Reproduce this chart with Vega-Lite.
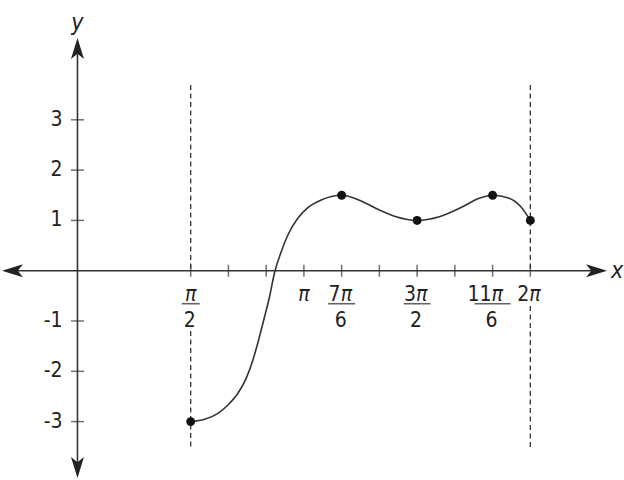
{
  "$schema": "https://vega.github.io/schema/vega-lite/v6.json",
  "width": 624,
  "height": 480,
  "autosize": {"type": "fit", "contains": "padding"},
  "padding": 0,
  "config": {
    "view": {"stroke": null},
    "font": "DejaVu Sans Condensed",
    "text": {"font": "DejaVu Sans Condensed", "fontSize": 21, "color": "#222"}
  },
  "datasets": {
    "curve": [
      {"x": 1.5708, "y": -3},
      {"x": 1.765, "y": -2.954},
      {"x": 1.949, "y": -2.835},
      {"x": 2.088, "y": -2.67},
      {"x": 2.226, "y": -2.437},
      {"x": 2.342, "y": -2.136},
      {"x": 2.434, "y": -1.775},
      {"x": 2.513, "y": -1.378},
      {"x": 2.596, "y": -0.915},
      {"x": 2.665, "y": -0.517},
      {"x": 2.734, "y": -0.04},
      {"x": 2.827, "y": 0.378},
      {"x": 2.919, "y": 0.71},
      {"x": 3.057, "y": 1.042},
      {"x": 3.196, "y": 1.252},
      {"x": 3.381, "y": 1.406},
      {"x": 3.6652, "y": 1.5},
      {"x": 3.957, "y": 1.372},
      {"x": 4.189, "y": 1.207},
      {"x": 4.42, "y": 1.074},
      {"x": 4.7124, "y": 1.0},
      {"x": 5.02, "y": 1.074},
      {"x": 5.343, "y": 1.272},
      {"x": 5.574, "y": 1.44},
      {"x": 5.7596, "y": 1.5},
      {"x": 5.989, "y": 1.44},
      {"x": 6.152, "y": 1.27},
      {"x": 6.2832, "y": 1.0}
    ],
    "points": [
      {"x": 1.5708, "y": -3},
      {"x": 3.6652, "y": 1.5},
      {"x": 4.7124, "y": 1},
      {"x": 5.7596, "y": 1.5},
      {"x": 6.2832, "y": 1}
    ],
    "guides": [
      {"x": 1.5708, "y": 3.69, "y2": 0},
      {"x": 1.5708, "y": -1.2, "y2": -3.56},
      {"x": 6.2832, "y": 3.69, "y2": 0},
      {"x": 6.2832, "y": -0.7, "y2": -3.56}
    ],
    "axes": [
      {"x": -0.85, "y": 0, "x2": 7.15, "y2": 0},
      {"x": 0, "y": -3.85, "x2": 0, "y2": 4.35}
    ],
    "arrows": [
      {"x": 7.202, "y": 0, "dir": "right"},
      {"x": -0.902, "y": 0, "dir": "left"},
      {"x": 0, "y": 4.418, "dir": "up"},
      {"x": 0, "y": -3.913, "dir": "down"}
    ],
    "xticks": [
      {"x": 1.5708, "y": 0, "coef": "", "pi": "π", "den": "2"},
      {"x": 2.0944, "y": 0, "coef": "", "pi": "", "den": ""},
      {"x": 2.618, "y": 0, "coef": "", "pi": "", "den": ""},
      {"x": 3.1416, "y": 0, "coef": "", "pi": "π", "den": ""},
      {"x": 3.6652, "y": 0, "coef": "7", "pi": "π", "den": "6"},
      {"x": 4.1888, "y": 0, "coef": "", "pi": "", "den": ""},
      {"x": 4.7124, "y": 0, "coef": "3", "pi": "π", "den": "2"},
      {"x": 5.236, "y": 0, "coef": "", "pi": "", "den": ""},
      {"x": 5.7596, "y": 0, "coef": "11", "pi": "π", "den": "6"},
      {"x": 6.2832, "y": 0, "coef": "2", "pi": "π", "den": ""}
    ],
    "yticks": [
      {"x": 0, "y": 3, "label": "3"},
      {"x": 0, "y": 2, "label": "2"},
      {"x": 0, "y": 1, "label": "1"},
      {"x": 0, "y": -1, "label": "-1"},
      {"x": 0, "y": -2, "label": "-2"},
      {"x": 0, "y": -3, "label": "-3"}
    ],
    "titles": [
      {"x": 0, "y": 4.92, "label": "y"},
      {"x": 7.486, "y": 0, "label": "x"}
    ]
  },
  "encoding": {
    "x": {"field": "x", "type": "quantitative", "axis": null,
          "scale": {"domain": [-1.075, 7.569], "nice": false, "zero": false}},
    "y": {"field": "y", "type": "quantitative", "axis": null,
          "scale": {"domain": [-4.161, 5.382], "nice": false, "zero": false}}
  },
  "layer": [
    {
      "data": {"name": "guides"},
      "mark": {"type": "rule", "color": "#333", "strokeWidth": 1.3, "strokeDash": [5, 3.5]},
      "encoding": {"y2": {"field": "y2"}}
    },
    {
      "data": {"name": "axes"},
      "mark": {"type": "rule", "color": "#333", "strokeWidth": 1.6},
      "encoding": {"x2": {"field": "x2"}, "y2": {"field": "y2"}}
    },
    {
      "data": {"name": "arrows"},
      "mark": {"type": "point", "filled": true, "opacity": 1, "color": "#222", "size": 441},
      "encoding": {
        "shape": {
          "field": "dir", "type": "nominal", "legend": null,
          "scale": {
            "domain": ["right", "left", "up", "down"],
            "range": [
              "M1,0L-1,-0.62L-0.5,0L-1,0.62Z",
              "M-1,0L1,-0.62L0.5,0L1,0.62Z",
              "M0,-1L-0.62,1L0,0.5L0.62,1Z",
              "M0,1L-0.62,-1L0,-0.5L0.62,-1Z"
            ]
          }
        }
      }
    },
    {
      "data": {"name": "xticks"},
      "mark": {"type": "tick", "orient": "vertical", "color": "#333", "thickness": 1.5, "size": 12}
    },
    {
      "data": {"name": "yticks"},
      "mark": {"type": "tick", "orient": "horizontal", "color": "#333", "thickness": 1.5, "size": 13}
    },
    {
      "data": {"name": "curve"},
      "mark": {"type": "line", "interpolate": "monotone", "color": "#333", "strokeWidth": 1.6}
    },
    {
      "data": {"name": "points"},
      "mark": {"type": "circle", "color": "#111", "opacity": 1, "size": 80}
    },
    {
      "data": {"name": "yticks"},
      "mark": {"type": "text", "align": "right", "baseline": "middle", "dx": -15},
      "encoding": {"text": {"field": "label"}}
    },
    {
      "data": {"name": "xticks"},
      "transform": [{"filter": "datum.coef != ''"}],
      "mark": {"type": "text", "align": "right", "baseline": "alphabetic", "dx": -1, "dy": 30},
      "encoding": {"text": {"field": "coef"}}
    },
    {
      "data": {"name": "xticks"},
      "transform": [{"filter": "datum.coef != '' && datum.pi != ''"}],
      "mark": {"type": "text", "align": "left", "baseline": "alphabetic", "fontStyle": "italic", "dx": -1, "dy": 30},
      "encoding": {"text": {"field": "pi"}}
    },
    {
      "data": {"name": "xticks"},
      "transform": [{"filter": "datum.coef == '' && datum.pi != ''"}],
      "mark": {"type": "text", "align": "center", "baseline": "alphabetic", "fontStyle": "italic", "dy": 30},
      "encoding": {"text": {"field": "pi"}}
    },
    {
      "data": {"name": "xticks"},
      "transform": [{"filter": "datum.den != ''"}],
      "mark": {"type": "text", "align": "center", "baseline": "alphabetic", "dx": -1, "dy": 56.5},
      "encoding": {"text": {"field": "den"}}
    },
    {
      "data": {"name": "xticks"},
      "transform": [{"filter": "datum.den != ''"}],
      "mark": {"type": "tick", "orient": "horizontal", "color": "#222", "thickness": 1.6, "yOffset": 33},
      "encoding": {
        "size": {
          "condition": [
            {"test": "length(datum.coef) == 0", "value": 18},
            {"test": "length(datum.coef) == 2", "value": 36}
          ],
          "value": 27
        }
      }
    },
    {
      "data": {"name": "titles"},
      "mark": {"type": "text", "align": "center", "baseline": "middle", "fontStyle": "italic", "fontSize": 23},
      "encoding": {"text": {"field": "label"}}
    }
  ]
}
